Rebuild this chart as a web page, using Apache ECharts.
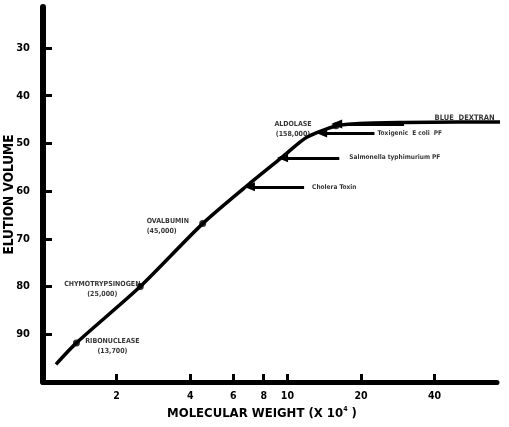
<!DOCTYPE html>
<html>
<head>
<meta charset="utf-8">
<script src="https://cdn.jsdelivr.net/npm/echarts@6/dist/echarts.min.js"></script>
<style>
  html, body { margin: 0; padding: 0; background: #fff; }
  #chart { width: 509px; height: 427px; }
</style>
</head>
<body>
<div id="chart"></div>
<script>
// Calibration curve: elution volume vs molecular weight (x 10^4), log scale
const curveMW = [1.13, 1.37, 2.5, 4.5, 7.0, 9.55, 12.0, 15.9, 19.7, 30, 50, 80];
const curveVe = [96.3, 91.8, 80.0, 66.8, 58.4, 52.8, 48.7, 46.3, 45.8, 45.6, 45.5, 45.5];

// Marker proteins
const proteinNames = ['RIBONUCLEASE', 'CHYMOTRYPSINOGEN', 'OVALBUMIN', 'ALDOLASE'];
const proteinMW = [1.37, 2.5, 4.5, 15.8];
const proteinVe = [91.8, 80.0, 66.8, 46.3];

// Toxins, shown as arrows pointing at the curve
const toxinNames = ['Toxigenic  E coli  PF', 'Salmonella typhimurium PF', 'Cholera Toxin'];
const toxinVe = [47.8, 53.0, 59.1];
const toxinTipMW = [13.8, 9.55, 6.99];
const toxinTailMW = [22.7, 16.3, 11.7];

// Void marker
const voidName = 'BLUE  DEXTRAN';
const voidVe = 45.9;
const voidTipMW = 15.9;
const voidTailMW = 30;
const voidLabelMW = 40;
const voidLabelVe = 44.6;

// Axis ticks
const xTicks = [2, 4, 6, 8, 10, 20, 40];
const yTicks = [30, 40, 50, 60, 70, 80, 90];

const FONT = "'DejaVu Sans Condensed', 'DejaVu Sans', sans-serif";

const proteinLabelOffsets = [[36, 3], [-38, 3], [-56, 3], [-43, 3]];
const proteinLabelAlign = ['center', 'center', 'left', 'center'];

const fmtMW = v => '(' + Math.round(v * 10000).toLocaleString('en-US') + ')';

const chart = echarts.init(document.getElementById('chart'));

const arrowLines = toxinNames.map((n, i) => [
  { coord: [toxinTailMW[i], toxinVe[i]], symbol: 'none' },
  { coord: [toxinTipMW[i], toxinVe[i]], symbol: 'triangle', symbolSize: [9, 11] }
]);
arrowLines.push([
  { coord: [voidTailMW, voidVe], symbol: 'none' },
  { coord: [voidTipMW, voidVe], symbol: 'triangle', symbolSize: [9, 11] }
]);

chart.setOption({
  animation: false,
  backgroundColor: '#fff',
  grid: { left: 43, right: 12, top: 7, bottom: 45, containLabel: false, outerBoundsMode: 'none' },
  xAxis: {
    type: 'log',
    logBase: 10,
    min: 1,
    max: 72,
    name: 'MOLECULAR WEIGHT (X 10{s|4} )',
    nameLocation: 'middle',
    nameGap: 24,
    nameMoveOverlap: false,
    nameTextStyle: {
      fontFamily: FONT, fontWeight: 'bold', fontSize: 13, color: '#000',
      padding: [0, 16, 0, 0],
      rich: { s: { fontFamily: FONT, fontWeight: 'bold', fontSize: 7, color: '#000', verticalAlign: 'top', padding: [0, 0, 8, 0] } }
    },
    axisLine: { show: true, onZero: false, lineStyle: { color: '#000', width: 5 } },
    axisTick: { show: true, inside: true, length: 8, lineStyle: { color: '#000', width: 3 }, customValues: xTicks },
    axisLabel: { show: true, margin: 9, fontFamily: FONT, fontWeight: 'bold', fontSize: 10.5, color: '#000', customValues: xTicks },
    minorTick: { show: false },
    splitLine: { show: false }
  },
  yAxis: {
    type: 'value',
    inverse: true,
    min: 21.4,
    max: 100,
    name: 'ELUTION VOLUME',
    nameLocation: 'middle',
    nameRotate: 90,
    nameGap: 27,
    nameMoveOverlap: false,
    nameTextStyle: { fontFamily: FONT, fontWeight: 'bold', fontSize: 13.5, color: '#000' },
    axisLine: { show: true, onZero: false, lineStyle: { color: '#000', width: 6 } },
    axisTick: { show: true, inside: true, length: 9, lineStyle: { color: '#000', width: 3 }, customValues: yTicks },
    axisLabel: { show: true, margin: 13, fontFamily: FONT, fontWeight: 'bold', fontSize: 11, color: '#000', customValues: yTicks },
    splitLine: { show: false }
  },
  series: [
    {
      type: 'line',
      data: curveMW.map((x, i) => [x, curveVe[i]]),
      smooth: 0.25,
      clip: false,
      showSymbol: false,
      lineStyle: { color: '#000', width: 3.5 },
      markLine: {
        silent: true,
        symbol: ['none', 'triangle'],
        label: { show: false },
        lineStyle: { color: '#000', width: 3, type: 'solid' },
        data: arrowLines
      }
    },
    {
      type: 'scatter',
      symbol: 'circle',
      symbolSize: 7,
      itemStyle: { color: '#000' },
      data: proteinNames.map((n, i) => ({
        value: [proteinMW[i], proteinVe[i]],
        label: {
          show: true,
          position: 'inside',
          offset: proteinLabelOffsets[i],
          align: proteinLabelAlign[i],
          formatter: n + '\n' + fmtMW(proteinMW[i]),
          fontFamily: FONT, fontWeight: 'bold', fontSize: 7, lineHeight: 10, color: '#000'
        }
      }))
    },
    {
      type: 'scatter',
      symbolSize: 0,
      silent: true,
      data: toxinNames.map((n, i) => ({
        value: [toxinTailMW[i], toxinVe[i]],
        label: {
          show: true, position: 'right', distance: [3, 10, 8][i],
          formatter: n,
          fontFamily: FONT, fontWeight: 'bold', fontSize: 6.5, color: '#000'
        }
      })).concat([{
        value: [voidLabelMW, voidLabelVe],
        label: {
          show: true, position: 'right', distance: 0,
          formatter: voidName,
          fontFamily: FONT, fontWeight: 'bold', fontSize: 7.5, color: '#000'
        }
      }])
    }
  ]
});
</script>
</body>
</html>
